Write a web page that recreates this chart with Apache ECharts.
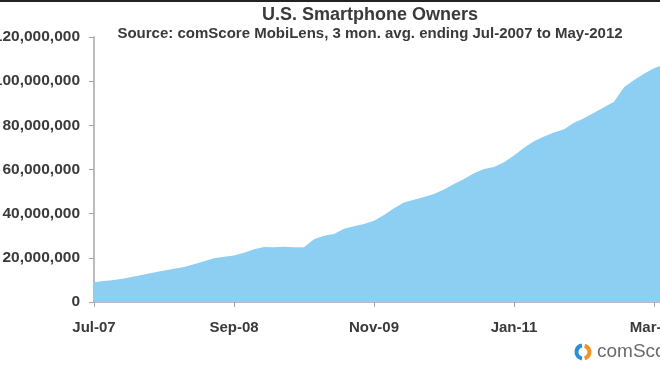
<!DOCTYPE html>
<html>
<head>
<meta charset="utf-8">
<script src="https://cdn.jsdelivr.net/npm/echarts@6/dist/echarts.min.js"></script>
<style>html,body{margin:0;padding:0;background:#fff}#c{width:660px;height:370px}</style>
</head>
<body>
<div id="c"></div>
<script>
var months = ["Jul-07","Aug-07","Sep-07","Oct-07","Nov-07","Dec-07",
"Jan-08","Feb-08","Mar-08","Apr-08","May-08","Jun-08","Jul-08","Aug-08","Sep-08","Oct-08","Nov-08","Dec-08",
"Jan-09","Feb-09","Mar-09","Apr-09","May-09","Jun-09","Jul-09","Aug-09","Sep-09","Oct-09","Nov-09","Dec-09",
"Jan-10","Feb-10","Mar-10","Apr-10","May-10","Jun-10","Jul-10","Aug-10","Sep-10","Oct-10","Nov-10","Dec-10",
"Jan-11","Feb-11","Mar-11","Apr-11","May-11","Jun-11","Jul-11","Aug-11","Sep-11","Oct-11","Nov-11","Dec-11",
"Jan-12","Feb-12","Mar-12","Apr-12","May-12"];
// smartphone owners, millions
var owners = [8.9,9.5,10.0,10.6,11.5,12.4,13.4,14.3,15.1,15.8,17.1,18.4,19.8,20.5,21.1,22.3,23.9,24.9,24.8,25.0,
24.8,24.8,28.4,30.0,30.8,33.2,34.3,35.3,36.8,39.4,42.4,45.1,46.3,47.5,48.9,51.0,53.4,55.7,58.3,60.2,
61.1,63.3,66.3,69.9,72.8,75.0,76.7,78.2,81.2,83.2,85.7,88.2,90.7,97.2,100.5,103.4,105.8,107.5,110.0];
var yTicks = [0,20000000,40000000,60000000,80000000,100000000,120000000];

var chart = echarts.init(document.getElementById('c'), null, {renderer:'canvas'});
var font = 'Liberation Sans, Arial, sans-serif';
var txt = '#3a3a3a';
chart.setOption({
  animation:false,
  backgroundColor:'#fff',
  title:{
    text:'U.S. Smartphone Owners',
    subtext:'Source: comScore MobiLens, 3 mon. avg. ending Jul-2007 to May-2012',
    left:365, textAlign:'center', top:1, itemGap:2,
    textStyle:{fontFamily:font,fontSize:18,fontWeight:'bold',color:txt},
    subtextStyle:{fontFamily:font,fontSize:15,fontWeight:'bold',color:txt}
  },
  grid:{left:94,right:-14,top:37,bottom:68,containLabel:false,outerBoundsMode:'none'},
  xAxis:{
    type:'category', data:months, boundaryGap:false,
    axisLine:{show:true,lineStyle:{color:'#a6a6a6',width:1.5}},
    axisTick:{show:true,interval:13,length:5,lineStyle:{color:'#a6a6a6'}},
    axisLabel:{interval:13,margin:18,fontFamily:font,fontSize:15,fontWeight:'bold',color:txt,hideOverlap:false}
  },
  yAxis:{
    type:'value', min:yTicks[0], max:yTicks[yTicks.length-1], interval:yTicks[1]-yTicks[0],
    splitLine:{show:false},
    axisLine:{show:true,lineStyle:{color:'#a6a6a6',width:1.5}},
    axisTick:{show:true,length:5,lineStyle:{color:'#a6a6a6'}},
    axisLabel:{margin:14,fontFamily:font,fontSize:15.5,fontWeight:'bold',color:txt,
      formatter:function(v){return v.toString().replace(/\B(?=(\d{3})+(?!\d))/g, ',');}}
  },
  series:[{
    type:'line', data:owners.map(function(v){return v*1e6;}),
    showSymbol:false, symbol:'none',
    lineStyle:{width:0,color:'#8ccff2'},
    areaStyle:{color:'#8ccff2',opacity:1},
    z:1
  }],
  graphic:[
    {type:'rect',shape:{x:0,y:0,width:660,height:2},style:{fill:'#222'}},
    {type:'sector',shape:{cx:583,cy:352,r:8.5,r0:4.5,startAngle:Math.PI*0.55,endAngle:Math.PI*1.45},style:{fill:'#2a8fd6'}},
    {type:'sector',shape:{cx:583,cy:352,r:8.5,r0:4.5,startAngle:-Math.PI*0.42,endAngle:Math.PI*0.42},style:{fill:'#f6921e'}},
    {type:'text',x:597,y:352,style:{text:'comScore',fontFamily:font,fontSize:19,fill:'#6a6a6a',verticalAlign:'middle'}}
  ]
});
</script>
</body>
</html>
